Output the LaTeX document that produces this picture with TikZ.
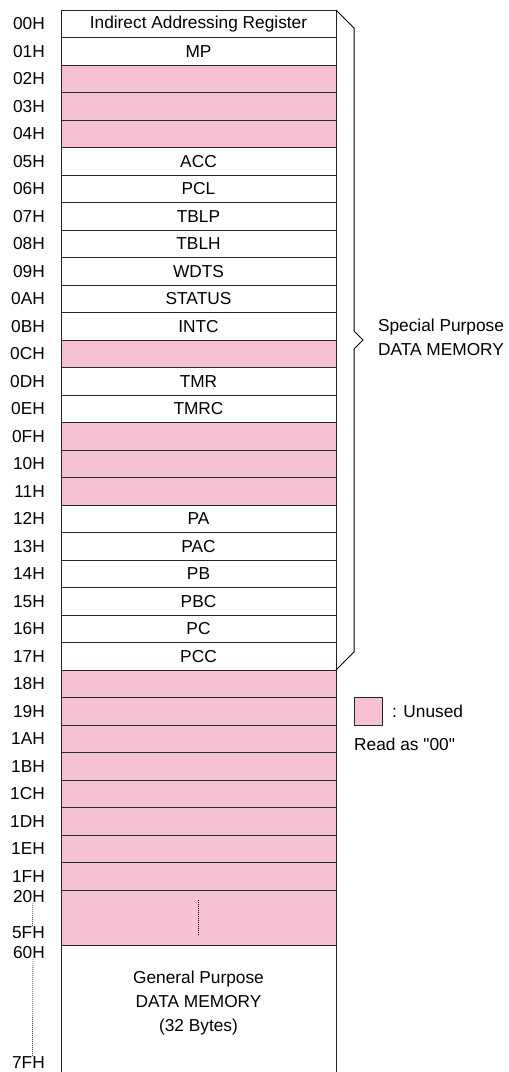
\documentclass[tikz,border=0pt]{standalone}
\usepackage{fontspec}
\setmainfont{Liberation Sans}[Ligatures=TeXOff]
\usetikzlibrary{positioning}
\definecolor{unusedpink}{RGB}{246,193,212}

\begin{document}
\begin{tikzpicture}[x=1pt, y=-1pt, font=\fontsize{17.3}{24}\selectfont,
        cell/.style={draw=black!85, line width=1pt, minimum width=275pt, minimum height=27.5pt, inner sep=0pt, outer sep=0pt},
        reg/.style={fill=white},
        unused/.style={fill=unusedpink},
        addr/.style={inner sep=0pt},
        dots/.style={line width=0.8pt, dash pattern=on 0.8pt off 1.2pt}]
        \useasboundingbox (0,0) rectangle (509,1072);

        % special purpose registers
        \node[cell, reg] (r0) at (198.5,23.75) {Indirect Addressing Register};
        \node[addr, left=16pt of r0] (a0) {00H};
        \foreach \adr/\kind/\name [count=\n from 1, remember=\n as \prev (initially 0)] in
            {01H/reg/MP, 02H/unused/{}, 03H/unused/{}, 04H/unused/{}, 05H/reg/ACC, 06H/reg/PCL,
             07H/reg/TBLP, 08H/reg/TBLH, 09H/reg/WDTS, 0AH/reg/STATUS, 0BH/reg/INTC, 0CH/unused/{},
             0DH/reg/TMR, 0EH/reg/TMRC, 0FH/unused/{}, 10H/unused/{}, 11H/unused/{}, 12H/reg/PA,
             13H/reg/PAC, 14H/reg/PB, 15H/reg/PBC, 16H/reg/PC, 17H/reg/PCC, 18H/unused/{},
             19H/unused/{}, 1AH/unused/{}, 1BH/unused/{}, 1CH/unused/{}, 1DH/unused/{},
             1EH/unused/{}, 1FH/unused/{}}
        {
            \node[cell, \kind, below=0pt of r\prev] (r\n) {\name};
            \node[addr, left=16pt of r\n] (a\n) {\adr};
        }

        % unused block and general purpose memory
        \node[cell, unused, minimum height=55pt, below=0pt of r31] (r32) {};
        \node[cell, reg, minimum height=140pt, below=0pt of r32] (r33) {};
        \node[align=center, inner sep=0pt] (gp) at (198.5,1003) {General Purpose\\DATA MEMORY\\(32 Bytes)};
        \draw[dots] ([yshift=18pt]r32.center) -- ([yshift=-18pt]r32.center);

        \node[addr, anchor=east] (a20) at (45,897) {20H};
        \node[addr, anchor=east] (a5F) at (45,933) {5FH};
        \node[addr, anchor=east] (a60) at (45,953) {60H};
        \node[addr, anchor=east] (a7F) at (45,1063) {7FH};
        \draw[dots] ([xshift=4pt]a20.south) -- ([xshift=4pt]a5F.north);
        \draw[dots] ([xshift=4pt]a60.south) -- ([xshift=4pt]a7F.north);

        % brace
        \coordinate (tip) at (363,340);
        \draw[line width=1pt] (r0.north east) -- ++(18,18) -- ([shift={(-9,-9)}]tip) -- (tip)
            -- ([shift={(-9,9)}]tip) -- (354,652) -- (r23.south east);
        \node[align=center, inner sep=0pt] (spdm) at (441,337) {Special Purpose\\DATA MEMORY};

        % legend
        \node[cell, unused, minimum width=28pt, minimum height=28pt] (key) at (368,711) {};
        \node[addr, right=10pt of key] (keytxt) {: Unused};
        \node[addr, anchor=north west] (readas) at ([yshift=-13pt]key.south west) {Read as "00"};
    \end{tikzpicture}
\end{document}
